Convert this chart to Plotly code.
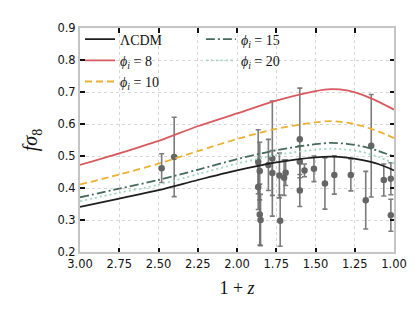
import plotly.graph_objects as go

# ---------------- data ----------------
# model curves, x = 1+z
curve_x = [3.00, 2.75, 2.50, 2.25, 2.00, 1.75, 1.50, 1.40, 1.30, 1.20, 1.10, 1.00]
lcdm    = [0.341, 0.367, 0.393, 0.425, 0.455, 0.480, 0.496, 0.498, 0.495, 0.487, 0.475, 0.455]
phi8    = [0.472, 0.508, 0.547, 0.593, 0.633, 0.673, 0.703, 0.709, 0.705, 0.691, 0.670, 0.645]
phi10   = [0.411, 0.442, 0.476, 0.515, 0.553, 0.585, 0.605, 0.609, 0.604, 0.593, 0.577, 0.556]
phi15   = [0.371, 0.398, 0.425, 0.457, 0.490, 0.518, 0.537, 0.541, 0.538, 0.530, 0.516, 0.498]
phi20   = [0.359, 0.385, 0.410, 0.443, 0.476, 0.503, 0.520, 0.523, 0.520, 0.512, 0.497, 0.477]

# f sigma_8 measurements
data_x   = [2.48, 2.40, 1.865, 1.855, 1.865, 1.855, 1.850, 1.800, 1.775, 1.775, 1.730, 1.725,
            1.700, 1.690, 1.600, 1.600, 1.600, 1.570, 1.510, 1.440, 1.380, 1.275, 1.180, 1.145,
            1.065, 1.020, 1.020]
data_y   = [0.462, 0.497, 0.482, 0.453, 0.403, 0.317, 0.300, 0.472, 0.492, 0.447, 0.439, 0.298,
            0.432, 0.448, 0.552, 0.482, 0.392, 0.455, 0.460, 0.414, 0.441, 0.441, 0.362, 0.532,
            0.425, 0.429, 0.315]
data_err = [0.045, 0.124, 0.100, 0.090, 0.070, 0.095, 0.080, 0.080, 0.180, 0.070, 0.070, 0.080,
            0.055, 0.040, 0.160, 0.050, 0.050, 0.020, 0.040, 0.080, 0.060, 0.050, 0.090, 0.160,
            0.050, 0.050, 0.050]

x_ticks = [3.00, 2.75, 2.50, 2.25, 2.00, 1.75, 1.50, 1.25, 1.00]
y_ticks = [0.2, 0.3, 0.4, 0.5, 0.6, 0.7, 0.8, 0.9]

# ---------------- figure ----------------
fig = go.Figure()

fig.add_trace(go.Scatter(
    x=data_x, y=data_y, mode="markers",
    marker=dict(color="#656565", size=6.5),
    error_y=dict(type="data", array=data_err, color="rgba(110,110,110,0.9)", thickness=1.6, width=2.5),
    showlegend=False))

serif = "Liberation Serif"
curves = [
    ("ΛCDM", lcdm, "#1e1e1e", "solid", "legend"),
    ("<i>ϕ</i><sub><i>i</i></sub> = 8", phi8, "#d65a5e", "solid", "legend"),
    ("<i>ϕ</i><sub><i>i</i></sub> = 10", phi10, "#eeb034", "7px,4px", "legend"),
    ("<i>ϕ</i><sub><i>i</i></sub> = 15", phi15, "#476b5b", "9px,3px,2px,3px", "legend2"),
    ("<i>ϕ</i><sub><i>i</i></sub> = 20", phi20, "#a3d5c3", "2px,3px", "legend2"),
]
for name, ys, col, dash, lg in curves:
    fig.add_trace(go.Scatter(
        x=curve_x, y=ys, mode="lines", name=name, legend=lg,
        line=dict(color=col, width=1.8, dash=dash, shape="spline", smoothing=0.8)))

leg_common = dict(bgcolor="rgba(255,255,255,0)", font=dict(family=serif, size=14, color="#111"),
                  xanchor="left", yanchor="top", itemwidth=30, tracegroupgap=0)

fig.update_layout(
    width=415, height=312,
    margin=dict(l=72, r=29, t=20, b=68),
    paper_bgcolor="white", plot_bgcolor="white",
    legend=dict(x=0.0, y=1.02, **leg_common),
    legend2=dict(x=0.385, y=1.02, **leg_common),
    font=dict(family="DejaVu Sans", size=11, color="#111"),
)

axis_common = dict(
    showline=True, linecolor="#c4c4c4", linewidth=2, mirror="allticks",
    ticks="inside", ticklen=4.5, tickwidth=1.6, tickcolor="#111",
    showgrid=True, gridcolor="#d6d6d6", griddash="dot", gridwidth=1,
    zeroline=False, tickfont=dict(family="DejaVu Sans", size=11.5, color="#111"),
)

fig.update_xaxes(range=[3.0, 1.0], tickvals=x_ticks, ticktext=[f"{v:.2f}" for v in x_ticks],
                 title=dict(text="1 + <i>z</i>", font=dict(family=serif, size=18, color="#111"), standoff=12),
                 **axis_common)
fig.update_yaxes(range=[0.2, 0.9], tickvals=y_ticks, ticktext=[f"{v:.1f}" for v in y_ticks],
                 title=dict(text="<i>fσ</i><sub>8</sub>", font=dict(family=serif, size=20, color="#111"), standoff=14),
                 **axis_common)

fig.write_html("out.html")
